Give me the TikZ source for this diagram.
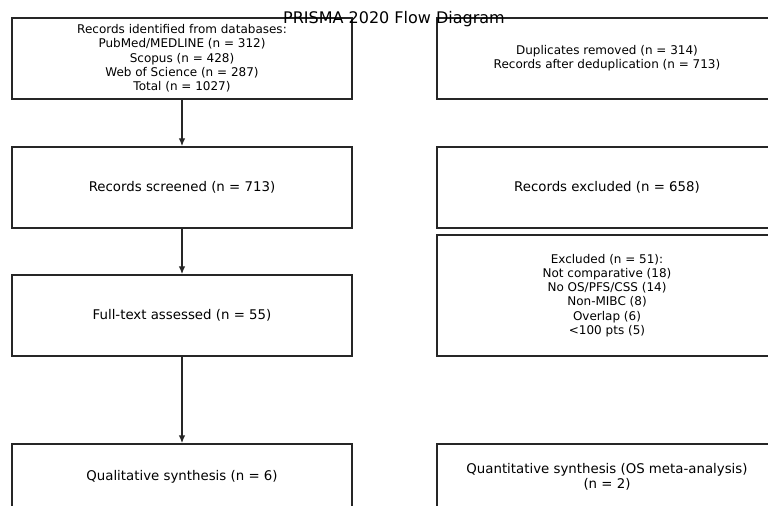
\documentclass[tikz,border=0pt]{standalone}
\usepackage{fontspec}
\setmainfont{DejaVu Sans}
\usetikzlibrary{arrows.meta}

\tikzset{
  box/.style={draw=black!85, line width=1.1pt, align=center,
    minimum width=255pt, minimum height=60.75pt, inner sep=0pt,
    font=\fontsize{9}{10.7}\selectfont},
  big/.style={font=\fontsize{10}{11.4}\selectfont},
  flow/.style={draw=black!85, line width=1.1pt, -{Latex[length=6pt,width=5pt]}}
}

\begin{document}
\begin{tikzpicture}[x=0.75pt, y=-0.75pt]
  \useasboundingbox (0,0) rectangle (768,506);
  \clip (0,0) rectangle (768,506);

  % Left column
  \node[box] (ident) at (182,58.5) {Records identified from databases:\\PubMed/MEDLINE (n = 312)\\Scopus (n = 428)\\Web of Science (n = 287)\\Total (n = 1027)};
  \node[box, big] (screen) at (182,187.5) {Records screened (n = 713)};
  \node[box, big] (fulltext) at (182,315.5) {Full-text assessed (n = 55)};
  \node[box, big, minimum height=49.5pt] (qual) at (182,477) {Qualitative synthesis (n = 6)};

  % Right column (runs off the page)
  \node[box] (dedup) at (607,58.5) {Duplicates removed (n = 314)\\Records after deduplication (n = 713)};
  \node[box, big] (excl) at (607,187.5) {Records excluded (n = 658)};
  \node[box, minimum height=90.75pt] (exclft) at (607,295.5) {Excluded (n = 51):\\Not comparative (18)\\No OS/PFS/CSS (14)\\Non-MIBC (8)\\Overlap (6)\\{<}100 pts (5)};
  \node[box, big, minimum height=49.5pt] (quant) at (607,477) {Quantitative synthesis (OS meta-analysis)\\(n = 2)};

  % Arrows
  \draw[flow] (ident) -- (screen);
  \draw[flow] (screen) -- (fulltext);
  \draw[flow] (fulltext) -- (qual);

  % Title
  \node[font=\fontsize{12}{14}\selectfont, anchor=base] (title) at (394,24) {PRISMA 2020 Flow Diagram};
\end{tikzpicture}
\end{document}
